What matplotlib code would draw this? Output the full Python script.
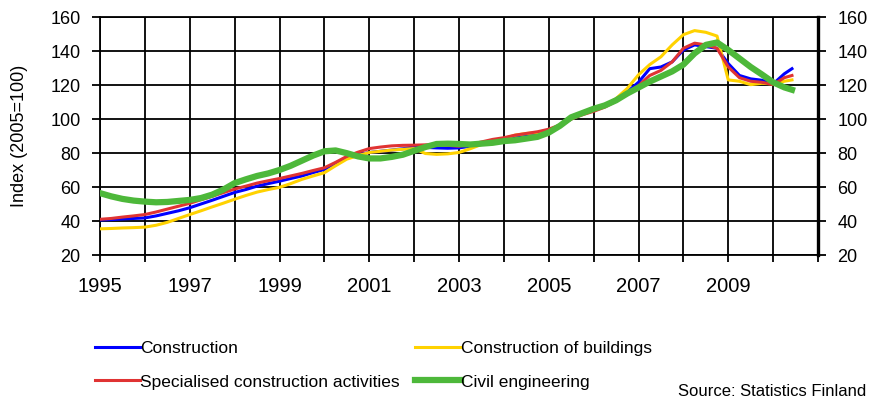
import numpy as np
import matplotlib
matplotlib.use("Agg")
import matplotlib.pyplot as plt

plt.rcParams['font.family'] = ['Liberation Sans', 'DejaVu Sans']

# quarterly observations, last point May 2010
t = list(np.arange(1995, 2010.3, 0.25)) + [2010.42]

construction = [40.6, 40.8, 41.2, 41.5, 41.8, 43, 44.5, 46, 47.8, 50, 52.2, 54.5,
                56.8, 58.5, 60.5, 62, 63.4, 65, 66.5, 68.5, 70.3, 74, 77.3, 79,
                80.3, 81, 81.7, 82.5, 83.7, 83.3, 83, 82.8, 83, 84, 85.5, 87,
                88, 89.5, 90.5, 91.5, 93, 96, 100, 103, 105, 107.5, 111, 116,
                121.6, 129.6, 130.6, 133.6, 140.6, 143.6, 142.6, 141.6, 132.6, 125.6, 123.6, 122.8,
                120.6, 126.6, 129.6]
specialised = [41, 41.5, 42.3, 43, 43.8, 45.3, 47, 48.7, 50.4, 52.5, 54.5, 56.7,
               58.8, 60.5, 62.3, 63.7, 65, 66.5, 68, 69.7, 71.3, 74.5, 78, 80.5,
               82.6, 83.5, 84.2, 84.5, 84.6, 84.8, 85, 84.5, 84, 85, 86.5, 88,
               89, 90.5, 91.5, 92.5, 94, 96.5, 100, 102.5, 104.5, 107, 110.5, 115,
               119.6, 125.6, 128.6, 133.6, 141.6, 144.6, 143.6, 141.6, 130.6, 124.3, 122.2, 121.6,
               120.2, 124.3, 125.6]
buildings = [35.4, 35.6, 35.9, 36.1, 36.4, 37.5, 39.2, 41.5, 43.8, 46, 48.3, 50.5,
             52.8, 55, 57, 58.5, 59.8, 62, 64.5, 66.5, 68.4, 72.5, 76.4, 78.5,
             80.3, 81, 81.7, 82.2, 82.6, 79.7, 79.2, 79.5, 80.3, 82.5, 85, 87,
             88.5, 90.5, 91.5, 92, 93.5, 96, 100, 103, 105.5, 108, 112, 118,
             126, 132, 136.6, 143.6, 149.6, 152, 151, 148.8, 123, 122.2, 120.2, 121,
             120.6, 122.2, 123]
civil = [56.4, 54.5, 53, 52, 51.4, 51, 51.2, 51.8, 52.4, 53.5, 55.5, 58.5,
         62.3, 64.5, 66.5, 68, 70, 72.5, 75.5, 78.5, 81, 81.5, 79.9, 78,
         76.8, 76.8, 77.7, 79, 81.3, 83.5, 85.3, 85.5, 85.3, 85, 85.5, 86,
         87, 87.5, 88.5, 89.5, 92, 96, 101, 103.5, 106, 108, 111, 115,
         118.5, 122, 125, 128, 132, 138.6, 143.6, 145, 140.6, 135.6, 130.6, 126.2,
         121.6, 118.6, 117.2]

years = list(range(1995, 2012))
year_labels = [str(y) if (y % 2 == 1 and y < 2011) else '' for y in years]
yticks = list(range(20, 161, 20))

fig = plt.figure(figsize=(8.96, 4.01), dpi=100)
ax = fig.add_axes([100/896, 1-255/401, 718/896, 238/401])

l_con, = ax.plot(t, construction, color='#0000ff', lw=2.2, label='Construction', zorder=3)
l_bld, = ax.plot(t, buildings, color='#ffd200', lw=2.2, label='Construction of buildings', zorder=3)
l_spe, = ax.plot(t, specialised, color='#e03333', lw=2.2, label='Specialised construction activities', zorder=3)
l_civ, = ax.plot(t, civil, color='#4db83a', lw=4.5, label='Civil engineering', zorder=4)

ax.set_xlim(1995, 2011)
ax.set_ylim(20, 160)
ax.set_xticks(years)
ax.set_xticklabels(year_labels)
ax.set_yticks(yticks)
ax.grid(True, color='black', lw=1.3)
ax.set_axisbelow(True)
ax.tick_params(axis='y', left=True, right=True, labelleft=True, labelright=True,
               length=5.5, width=1.3, labelsize=13, pad=8.5)
ax.tick_params(axis='x', length=5, width=1.3, labelsize=14.5, pad=10.5)
for s in ['top', 'bottom', 'left']:
    ax.spines[s].set_linewidth(1.3)
ax.spines['right'].set_linewidth(2.4)
ax.set_ylabel('Index (2005=100)', fontsize=13)
ax.yaxis.set_label_coords(-72/718, 0.5)

fig.legend([l_con, l_spe, l_bld, l_civ],
           ['Construction', 'Specialised construction activities',
            'Construction of buildings', 'Civil engineering'],
           ncol=2, loc='upper left', bbox_to_anchor=(95/896, 1-341/401),
           frameon=False, handlelength=2.6, handletextpad=0.0,
           columnspacing=0.9, labelspacing=1.05, borderpad=0, borderaxespad=0,
           prop={'size': 12.5})

fig.text(678/896, 2/401, 'Source: Statistics Finland', fontsize=12, va='bottom', ha='left')

fig.savefig('out.png', dpi=100)
